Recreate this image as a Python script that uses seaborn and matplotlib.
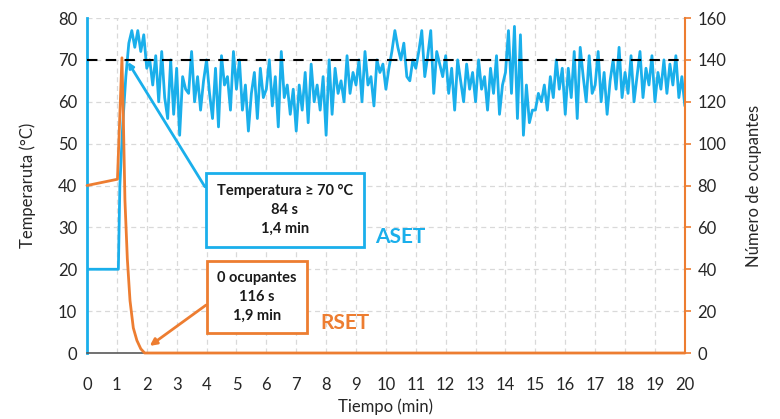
import numpy as np
import pandas as pd
import matplotlib
matplotlib.use("Agg")
import matplotlib.pyplot as plt
import seaborn as sns

# === DATA ===
# temperature: start, rise, then readings every 0.1 min from 1.3 to 20.0
temp_start_t = [0.0, 1.0, 1.05, 1.1, 1.2]
temp_start_v = [20, 20, 20, 40, 55]
temp_noisy = [
    66, 74, 77, 73, 77, 72, 76,                      # 1.3 - 1.9
    68, 70, 64, 71, 60, 72, 61, 56, 70, 57,          # 2
    68, 52, 66, 63, 62, 72, 60, 66, 58, 65,          # 3
    70, 62, 56, 68, 54, 71, 64, 66, 58, 72,          # 4
    63, 70, 58, 64, 53, 62, 67, 56, 68, 61,          # 5
    63, 70, 59, 66, 54, 72, 61, 64, 57, 63,          # 6
    53, 64, 58, 67, 55, 69, 60, 64, 58, 66,          # 7
    52, 70, 57, 68, 62, 65, 60, 71, 62, 67,          # 8
    64, 70, 60, 72, 64, 66, 59, 70, 67, 69,          # 9
    63, 68, 72, 77, 73, 70, 74, 66, 65, 70,          # 10
    68, 72, 77, 66, 71, 77, 62, 72, 69, 66,          # 11
    71, 62, 68, 58, 70, 65, 60, 69, 63, 67,          # 12
    60, 70, 63, 66, 58, 68, 62, 71, 57, 64,          # 13
    67, 77, 62, 78, 56, 76, 52, 64, 55, 58,          # 14
    58, 62, 60, 64, 58, 66, 61, 70, 63, 68,          # 15
    57, 68, 61, 72, 56, 73, 66, 60, 71, 62,          # 16
    64, 72, 60, 67, 57, 65, 70, 63, 73, 61,          # 17
    67, 62, 71, 60, 66, 72, 61, 68, 64, 71,          # 18
    60, 67, 63, 70, 62, 69, 64, 71, 61, 66,          # 19
    59,                                              # 20.0
]
temp_noisy_t = [round(1.3 + 0.1 * i, 2) for i in range(len(temp_noisy))]

occ_t = [0.0, 1.02, 1.17, 1.22, 1.27, 1.35, 1.44, 1.55, 1.67, 1.8, 1.93, 20.0]
occ_v = [80, 83, 141, 110, 73, 45, 25, 12, 6, 2, 0, 0]

temp_limit = 70
aset_label = "Temperatura \u2265 70 \u00b0C\n84 s\n1,4 min"
rset_label = "0 ocupantes\n116 s\n1,9 min"

temp_df = pd.DataFrame({"t": temp_start_t + temp_noisy_t,
                        "T": temp_start_v + temp_noisy})
occ_df = pd.DataFrame({"t": occ_t, "N": occ_v})

BLUE = "#1AAFEB"
ORANGE = "#ED7D31"

# === PLOT ===
sns.set_style("white")
plt.rcParams['font.family'] = ['Lato', 'DejaVu Sans']

fig = plt.figure(figsize=(7.8, 4.19), dpi=100)
ax = fig.add_axes([0.1115, 0.1575, 0.7665, 0.7995])
ax2 = ax.twinx()

sns.lineplot(data=temp_df, x="t", y="T", ax=ax, color=BLUE, lw=2, zorder=3)
ax.axhline(temp_limit, color="black", lw=1.5, ls=(0, (5, 4)), zorder=4)
sns.lineplot(data=occ_df, x="t", y="N", ax=ax2, color=ORANGE, lw=2,
             zorder=3, clip_on=False)

ax.set_xlim(0, 20)
ax.set_ylim(0, 80)
ax2.set_ylim(0, 160)
ax.set_xticks(range(0, 21))
ax.set_yticks(range(0, 81, 10))
ax2.set_yticks(range(0, 161, 20))

ax.grid(True, color="#d9d9d9", ls=(0, (4, 3)), lw=0.9)
ax.set_axisbelow(True)

for a in (ax, ax2):
    a.spines['top'].set_visible(False)
ax.spines['right'].set_visible(False)
ax.spines['left'].set_color(BLUE)
ax.spines['left'].set_linewidth(2)
ax.spines['bottom'].set_color("#595959")
ax.spines['bottom'].set_linewidth(1.2)
ax2.spines['left'].set_visible(False)
ax2.spines['bottom'].set_visible(False)
ax2.spines['right'].set_color(ORANGE)
ax2.spines['right'].set_linewidth(1.5)

ax.tick_params(axis='y', length=0, labelsize=12, colors="#262626", pad=7)
ax.tick_params(axis='x', length=0, labelsize=12, colors="#262626", pad=17)
ax2.tick_params(axis='y', length=4, width=1.2, color=ORANGE,
                labelsize=12, labelcolor="#262626", pad=5)

ax.set_xlabel("Tiempo (min)", fontsize=12, color="#262626", labelpad=4)
ax.set_ylabel("Temperaruta (\u00b0C)", fontsize=12, color="#262626", labelpad=16)
ax2.set_ylabel("N\u00famero de ocupantes", fontsize=12, color="#262626", labelpad=14)

# annotations
ax.annotate(aset_label, xy=(1.37, 69.5), xytext=(6.62, 34.1),
            ha="center", va="center", fontsize=10.5, fontweight="bold",
            linespacing=1.45, color="#1a1a1a", zorder=6,
            bbox=dict(boxstyle="square,pad=0.75", fc="white", ec=BLUE, lw=2),
            arrowprops=dict(arrowstyle="-|>", color=BLUE, lw=2,
                            mutation_scale=8, relpos=(0, 0.58),
                            shrinkA=0, shrinkB=0))
ax.annotate(rset_label, xy=(2.1, 1.7), xytext=(5.69, 13.4),
            ha="center", va="center", fontsize=10.5, fontweight="bold",
            linespacing=1.45, color="#1a1a1a", zorder=6,
            bbox=dict(boxstyle="square,pad=0.7", fc="white", ec=ORANGE, lw=2),
            arrowprops=dict(arrowstyle="-|>", color=ORANGE, lw=2,
                            mutation_scale=10, relpos=(0, 0.5),
                            shrinkA=0, shrinkB=0))
ax.text(10.47, 27.7, "ASET", color=BLUE, fontsize=15, fontweight="bold",
        ha="center", va="center")
ax.text(8.63, 7.2, "RSET", color=ORANGE, fontsize=15, fontweight="bold",
        ha="center", va="center")

fig.savefig("out.png", dpi=100)
